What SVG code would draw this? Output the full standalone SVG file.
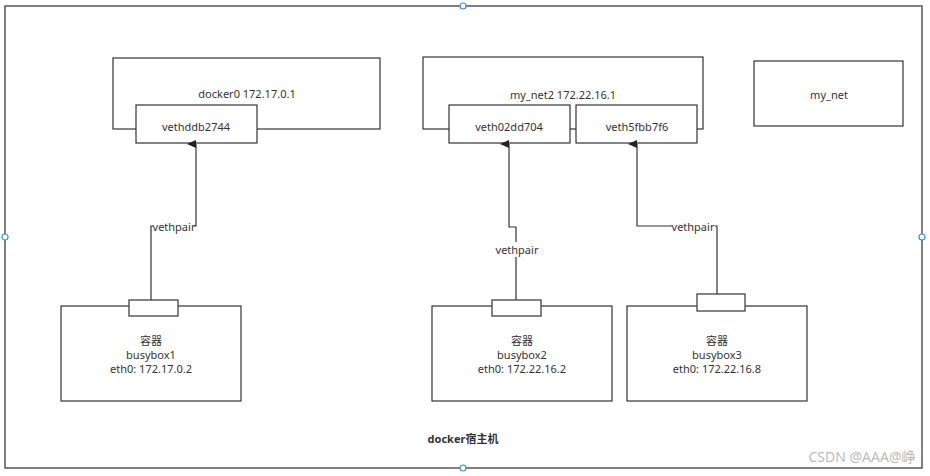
<svg xmlns="http://www.w3.org/2000/svg" width="930" height="476" viewBox="0 0 930 476">
<style>
.box{fill:#fff;stroke:#333;stroke-width:1.2}
.t{font-family:"Noto Sans","Noto Sans CJK SC",sans-serif;font-size:11px;fill:#333;text-anchor:middle;dominant-baseline:central}
.c{fill:none;stroke:#333;stroke-width:1.2}
.h{fill:#fff;stroke:#3b8ee8;stroke-width:1.2}
</style>
<defs>
<marker id="arr" markerWidth="8" markerHeight="10" refX="4" refY="9" orient="auto" markerUnits="userSpaceOnUse" viewBox="0 0 8 10">
<path d="M0,9 L4,0 L8,9 Z" fill="#222"/>
</marker>
</defs>
<rect width="930" height="476" fill="#fff"/>
<g id="host">
<rect x="5" y="6" width="917" height="462" fill="none" stroke="#555" stroke-width="1.5"/>
<text class="t" x="463" y="438" font-weight="bold">docker宿主机</text>
</g>
<g id="docker0">
<rect class="box" x="113" y="58" width="267" height="71"/>
<text class="t" x="247" y="93">docker0 172.17.0.1</text>
</g>
<g id="vethddb2744">
<rect class="box" x="136" y="105" width="121" height="38"/>
<text class="t" x="196" y="126">vethddb2744</text>
</g>
<g id="my_net2">
<rect class="box" x="423" y="57" width="280" height="72"/>
<text class="t" x="563" y="94">my_net2 172.22.16.1</text>
</g>
<g id="veth02dd704">
<rect class="box" x="449" y="105" width="121" height="38"/>
<text class="t" x="509" y="126">veth02dd704</text>
</g>
<g id="veth5fbb7f6">
<rect class="box" x="576" y="105" width="121" height="38"/>
<text class="t" x="637" y="126">veth5fbb7f6</text>
</g>
<g id="my_net">
<rect class="box" x="754" y="61" width="149" height="65"/>
<text class="t" x="829" y="94">my_net</text>
</g>
<g id="busybox1">
<rect class="box" x="61" y="306" width="180" height="95"/>
<rect class="box" x="129" y="300" width="49" height="16"/>
<text class="t" x="151" y="340">容器</text>
<text class="t" x="151" y="354">busybox1</text>
<text class="t" x="151" y="368">eth0: 172.17.0.2</text>
</g>
<g id="busybox2">
<rect class="box" x="432" y="306" width="180" height="95"/>
<rect class="box" x="492" y="300" width="49" height="16"/>
<text class="t" x="522" y="340">容器</text>
<text class="t" x="522" y="354">busybox2</text>
<text class="t" x="522" y="368">eth0: 172.22.16.2</text>
</g>
<g id="busybox3">
<rect class="box" x="627" y="306" width="180" height="95"/>
<rect class="box" x="697" y="294" width="48" height="17"/>
<text class="t" x="717" y="340">容器</text>
<text class="t" x="717" y="354">busybox3</text>
<text class="t" x="717" y="368">eth0: 172.22.16.8</text>
</g>
<g id="connectors">
<path class="c" d="M151,300 V226 H196 V144" marker-end="url(#arr)"/>
<rect x="153" y="219" width="41" height="14" fill="#fff"/>
<text class="t" x="174" y="226">vethpair</text>
<path class="c" d="M516,300 V227 H509 V144" marker-end="url(#arr)"/>
<rect x="496" y="242" width="42" height="15" fill="#fff"/>
<text class="t" x="517" y="249">vethpair</text>
<path class="c" d="M717,294 V226 H637 V144" marker-end="url(#arr)"/>
<rect x="672" y="219" width="43" height="14" fill="#fff"/>
<text class="t" x="693" y="226">vethpair</text>
</g>
<g id="handles">
<circle class="h" cx="463" cy="6" r="3"/>
<circle class="h" cx="5" cy="237" r="3"/>
<circle class="h" cx="922" cy="237" r="3"/>
<circle class="h" cx="463" cy="468" r="3"/>
</g>
<text x="862" y="462" font-family="Noto Sans, Noto Sans CJK SC, sans-serif" font-size="14" fill="#bbb" text-anchor="middle">CSDN @AAA@峥</text>
</svg>
